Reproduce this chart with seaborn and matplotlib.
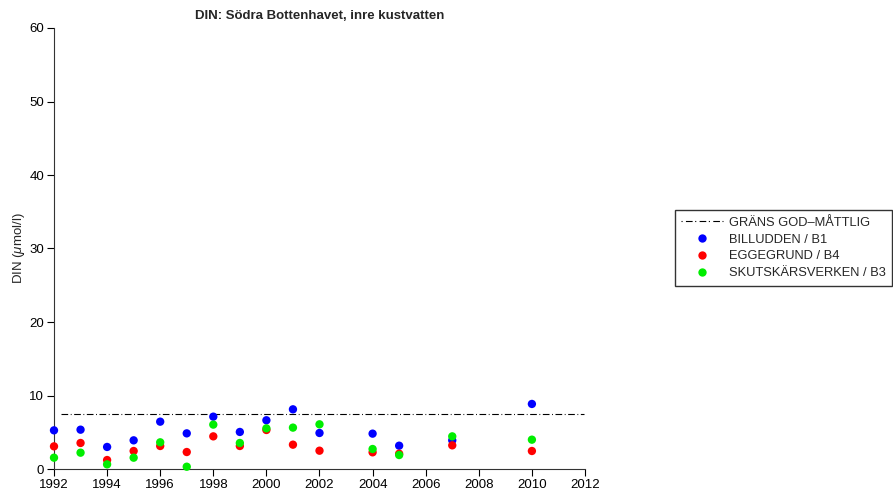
import matplotlib
matplotlib.use("Agg")
import matplotlib.pyplot as plt
import seaborn as sns
import pandas as pd
from matplotlib.lines import Line2D

years = [1992, 1993, 1994, 1995, 1996, 1997, 1998, 1999, 2000, 2001, 2002, 2004, 2005, 2007, 2010]
billudden = [5.26, 5.35, 3.0, 3.9, 6.44, 4.85, 7.12, 5.04, 6.63, 8.12, 4.9, 4.81, 3.17, 3.9, 8.85]
eggegrund = [3.08, 3.54, 1.22, 2.45, 3.13, 2.31, 4.44, 3.13, 5.31, 3.31, 2.49, 2.27, 2.08, 3.22, 2.45]
skutskar = [1.54, 2.22, 0.63, 1.54, 3.63, 0.31, 6.04, 3.54, 5.53, 5.63, 6.08, 2.72, 1.9, 4.44, 3.99]
series_names = ["BILLUDDEN / B1", "EGGEGRUND / B4", "SKUTSKÄRSVERKEN / B3"]
threshold = 7.5
threshold_label = "GRÄNS GOD\u2013MÅTTLIG"
xticks = list(range(1992, 2013, 2))
yticks = [0, 10, 20, 30, 40, 50, 60]

df = pd.DataFrame({
    "year": years * 3,
    "value": billudden + eggegrund + skutskar,
    "station": [series_names[0]] * len(years) + [series_names[1]] * len(years) + [series_names[2]] * len(years),
})

sns.set_theme(style="ticks")
plt.rcParams["font.family"] = ["Liberation Sans", "DejaVu Sans"]
plt.rcParams["mathtext.fontset"] = "custom"
plt.rcParams["mathtext.it"] = "Liberation Sans:italic"
plt.rcParams["mathtext.rm"] = "Liberation Sans"

fig = plt.figure(figsize=(8.93, 4.98), dpi=100)
ax = fig.add_axes([54 / 893, 1 - 469 / 498, (585 - 54) / 893, (469 - 28) / 498])

palette = {series_names[0]: "#0000ff", series_names[1]: "#ff0000", series_names[2]: "#00ee00"}
sns.scatterplot(data=df, x="year", y="value", hue="station", palette=palette,
                s=36, linewidth=0, ax=ax, legend=False, clip_on=False, zorder=3)

ax.hlines(threshold, 1992.25, 2011.95, colors="black", linewidth=0.8,
          linestyles=[(0, (6, 2.3, 0.8, 2.3))], zorder=2)

ax.set_xlim(1992, 2012)
ax.set_ylim(0, 60)
ax.set_xticks(xticks)
ax.set_yticks(yticks)
ax.tick_params(axis="both", labelsize=9.5, length=5, width=0.8, colors="black", direction="out", pad=2)
for s in ["top", "right"]:
    ax.spines[s].set_visible(False)
for s in ["left", "bottom"]:
    ax.spines[s].set_linewidth(0.8)
    ax.spines[s].set_color("#333333")
ax.set_xlabel("")
ax.set_ylabel("DIN ($\\mathit{\\mu}$mol/l)", fontsize=9.5, labelpad=1.5)
ax.set_title("DIN: Södra Bottenhavet, inre kustvatten", fontsize=9.5, fontweight="bold", pad=6.5)

handles = [
    Line2D([], [], color="black", linewidth=0.8, linestyle=(0, (1, 3, 6, 2.3))),
    Line2D([], [], marker="o", linestyle="none", color="#0000ff", markersize=6, markeredgewidth=0),
    Line2D([], [], marker="o", linestyle="none", color="#ff0000", markersize=6, markeredgewidth=0),
    Line2D([], [], marker="o", linestyle="none", color="#00ee00", markersize=6, markeredgewidth=0),
]
labels = [threshold_label] + series_names
leg = fig.legend(handles, labels, loc="center left", bbox_to_anchor=(675 / 893, 1 - 248 / 498),
                 fontsize=9.3, frameon=True, fancybox=False, edgecolor="black",
                 handlelength=3.2, borderpad=0.5, labelspacing=0.36, handletextpad=0.45,
                 borderaxespad=0)
leg.get_frame().set_linewidth(1.0)

fig.savefig("out.png", dpi=100)
